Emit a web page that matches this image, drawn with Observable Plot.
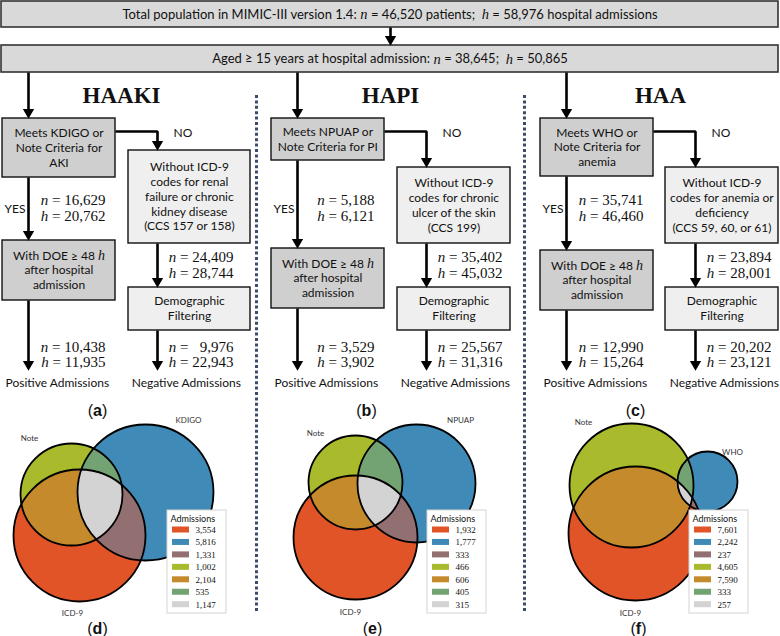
<!DOCTYPE html>
<html>
<head>
<meta charset="utf-8">
<script src="https://cdn.jsdelivr.net/npm/d3@7"></script>
<script src="https://cdn.jsdelivr.net/npm/@observablehq/plot@0.6"></script>
<style>
  body { margin: 0; background: #fff; }
  svg { display: block; }
</style>
</head>
<body>
<div id="chart"></div>
<script>
// ---------------- DATA ----------------
const topText = "Total population in MIMIC-III version 1.4: *n* = 46,520 patients;  *h* = 58,976 hospital admissions";
const ageText = "Aged ≥ 15 years at hospital admission: *n* = 38,645;  *h* = 50,865";
const groups = ["HAAKI", "HAPI", "HAA"];
const meetsText = [
  ["Meets KDIGO or", "Note Criteria for", "AKI"],
  ["Meets NPUAP or", "Note Criteria for PI"],
  ["Meets WHO or", "Note Criteria for", "anemia"]
];
const withoutText = [
  ["Without ICD-9", "codes for renal", "failure or chronic", "kidney disease", "(CCS 157 or 158)"],
  ["Without ICD-9", "codes for chronic", "ulcer of the skin", "(CCS 199)"],
  ["Without ICD-9", "codes for anemia or", "deficiency", "(CCS 59, 60, or 61)"]
];
const doeText = ["With DOE ≥ 48 *h*", "after hospital", "admission"];
const demoText = ["Demographic", "Filtering"];
const yesN = [16629, 5188, 35741], yesH = [20762, 6121, 46460];
const noN = [24409, 35402, 23894], noH = [28744, 45032, 28001];
const posN = [10438, 3529, 12990], posH = [11935, 3902, 15264];
const negN = [9976, 25567, 20202], negH = [22943, 31316, 23121];
const flowLetters = ["a", "b", "c"];
const vennLetters = ["d", "e", "f"];
const criteria = ["KDIGO", "NPUAP", "WHO"];
const regionKeys = ["ICD-9 only", "criteria only", "ICD-9 & criteria", "Note only", "ICD-9 & Note", "criteria & Note", "all three"];
const admissionsD = [3554, 5816, 1331, 1002, 2104, 535, 1147];
const admissionsE = [1932, 1777, 333, 466, 606, 405, 315];
const admissionsF = [7601, 2242, 237, 4605, 7590, 333, 257];
const admissions = [admissionsD, admissionsE, admissionsF];

// ---------------- LAYOUT / STYLE ----------------
const palette = ["#e05427", "#3f8ab6", "#926f70", "#a9ba2c", "#c58a2c", "#74a373", "#d3d3d3"];
const colOffset = [0, 269, 538];
const leftX = [2, 115];
const meetsY = [[118, 177], [118, 160], [118, 176]];
const withoutX = [[128, 250], [128, 241], [127, 240]];
const withoutY = [[150, 243], [167, 243], [167, 243]];
const doeY = [[240, 300], [248, 308], [250, 310]];
const demoY = [287, 330];
const leftArrowX = 28, rightArrowX = 157, noY = 131, endY = 370;
// Venn circles: [cx, cy, r] for A = ICD-9, B = criteria, C = Note
const vennGeom = [
  { A: [79, 535, 66], B: [145, 492, 68], C: [71, 494, 51] },
  { A: [355, 537, 62], B: [416, 483, 59], C: [355, 482, 47] },
  { A: [635, 533, 67], B: [707, 481, 30], C: [631, 485, 62] }
];
const vennLabelPos = [
  { note: [29, 438], crit: [188, 420], icd: [72, 613], letter: [97, 628] },
  { note: [315, 433], crit: [460, 420], icd: [350, 612], letter: [372, 628] },
  { note: [583, 422], crit: [732, 452], icd: [630, 613], letter: [638, 628] }
];
const legendX = [167, 427, 689];

const fontDefs = {
  sans: { family: "Lato" },
  sansGray: { family: "Lato" },
  serif: { family: "Liberation Serif" },
  serifI: { family: "Liberation Serif", italic: true },
  title: { family: "Liberation Serif", bold: true },
  sansR: { family: "Liberation Sans" },
  sansB: { family: "Liberation Sans", bold: true }
};
const ctx = document.createElement("canvas").getContext("2d");
function cssFont(style, size) {
  const f = fontDefs[style];
  return `${f.italic ? "italic " : ""}${f.bold ? "bold " : ""}${size}px "${f.family}"`;
}
function measure(t, style, size) { ctx.font = cssFont(style, size); return ctx.measureText(t).width; }

const texts = [];
function addPieces(pieces, x, y, align) {
  const widths = pieces.map(p => measure(p.t, p.style, p.size));
  const total = d3.sum(widths);
  let cursor = align === "middle" ? x - total / 2 : align === "end" ? x - total : x;
  pieces.forEach((p, i) => {
    const lead = p.t.match(/^[ ]*/)[0];
    const txt = p.t.replace(/^[ ]+|[ ]+$/g, "");
    if (txt.length) texts.push({ x: cursor + measure(lead, p.style, p.size), y, text: txt, style: p.style, size: p.size });
    cursor += widths[i];
  });
}
function addLine(str, x, y, align, o) {
  const parts = str.split(/\*([^*]+)\*/);
  const pieces = parts.map((t, i) => i % 2
    ? { t, style: "serifI", size: o.varSize || o.size }
    : { t, style: o.style, size: o.size }).filter(p => p.t.length);
  addPieces(pieces, x, y, align);
}

const fmt = d3.format(",");
const FIG = "\u2007";
function nhLines(n, h) {
  let a = fmt(n), b = fmt(h);
  while (a.length < b.length) a = FIG + a;
  while (b.length < a.length) b = FIG + b;
  return [`*n* = ${a}`, `*h* = ${b}`];
}
const nhOpt = { style: "serif", size: 15, varSize: 15 };

// ---------------- BUILD FLOWCHART ----------------
const boxesTop = [
  { x1: 1, x2: 778, y1: 1, y2: 27, lines: [topText] },
  { x1: 1, x2: 778, y1: 45, y2: 72, lines: [ageText] }
];
const boxesDark = [], boxesLight = [];
const arrows = [];
arrows.push([[390, 27], [390, 45]]);

for (let i = 0; i < 3; i++) {
  const off = colOffset[i];
  const L = leftArrowX + off, R = rightArrowX + off;
  const meets = { x1: leftX[0] + off, x2: leftX[1] + off, y1: meetsY[i][0], y2: meetsY[i][1], lines: meetsText[i] };
  const doe = { x1: leftX[0] + off, x2: leftX[1] + off, y1: doeY[i][0], y2: doeY[i][1], lines: doeText };
  const without = { x1: withoutX[i][0] + off, x2: withoutX[i][1] + off, y1: withoutY[i][0], y2: withoutY[i][1], lines: withoutText[i] };
  const demo = { x1: withoutX[i][0] + off, x2: withoutX[i][1] + off, y1: demoY[0], y2: demoY[1], lines: demoText };
  boxesDark.push(meets, doe);
  boxesLight.push(without, demo);

  arrows.push([[L, 72], [L, meets.y1]]);
  arrows.push([[L, meets.y2], [L, doe.y1]]);
  arrows.push([[meets.x2, noY], [R, noY], [R, without.y1]]);
  arrows.push([[R, without.y2], [R, demo.y1]]);
  arrows.push([[L, doe.y2], [L, endY]]);
  arrows.push([[R, demo.y2], [R, endY]]);

  addPieces([{ t: groups[i], style: "title", size: 23 }], [121, 390, 660][i], 95, "middle");
  addLine("YES", 4 + off, 209, "start", { style: "sans", size: 12 });
  addLine("NO", 173 + off, 133, "start", { style: "sans", size: 12 });
  const yl = nhLines(yesN[i], yesH[i]);
  addLine(yl[0], 105 + off, 200, "end", nhOpt);
  addLine(yl[1], 105 + off, 216, "end", nhOpt);
  const nl = nhLines(noN[i], noH[i]);
  addLine(nl[0], 233 + off, 257, "end", nhOpt);
  addLine(nl[1], 233 + off, 273, "end", nhOpt);
  const pl = nhLines(posN[i], posH[i]);
  addLine(pl[0], 105 + off, 347, "end", nhOpt);
  addLine(pl[1], 105 + off, 362, "end", nhOpt);
  const ngl = nhLines(negN[i], negH[i]);
  addLine(ngl[0], 233 + off, 347, "end", nhOpt);
  addLine(ngl[1], 233 + off, 362, "end", nhOpt);
  addLine("Positive Admissions", 57 + off, 383, "middle", { style: "sans", size: 12 });
  addLine("Negative Admissions", 186 + off, 383, "middle", { style: "sans", size: 12 });
  addPieces([{ t: "(", style: "sansR", size: 16 }, { t: flowLetters[i], style: "sansB", size: 16 }, { t: ")", style: "sansR", size: 16 }], 97 + off, 410, "middle");
}

function addBoxText(b, o, spacing) {
  const cx = (b.x1 + b.x2) / 2, cy = (b.y1 + b.y2) / 2;
  b.lines.forEach((ln, k) => addLine(ln, cx, cy + (k - (b.lines.length - 1) / 2) * spacing, "middle", o));
}
boxesTop.forEach(b => addBoxText(b, { style: "sans", size: 13, varSize: 14.5 }, 14));
boxesDark.concat(boxesLight).forEach(b => addBoxText(b, { style: "sans", size: 12, varSize: 14 }, 14.8));

const lineData = arrows.flatMap((pts, id) => pts.map((p, k) => ({ id, x: p[0], y: k === pts.length - 1 ? p[1] - 5 : p[1] })));
const tips = arrows.map(pts => { const p = pts[pts.length - 1]; return { x: p[0], y: p[1] - 6.2 }; });

// ---------------- VENN ----------------
const vennCircles = [];
vennGeom.forEach((g, v) => ["A", "B", "C"].forEach(s => vennCircles.push({ v, set: s, cx: g[s][0], cy: g[s][1], r: g[s][2] })));
const bySet = s => vennCircles.filter(d => d.set === s);
const vdot = (data, key, label) => Plot.dot(data, { x: "cx", y: "cy", r: "r", fill: () => key, sort: null, ariaDescription: label });

vennLabelPos.forEach((p, v) => {
  addLine("Note", p.note[0], p.note[1], "middle", { style: "sansGray", size: 8 });
  addLine(criteria[v], p.crit[0], p.crit[1], "middle", { style: "sansGray", size: 8 });
  addLine("ICD-9", p.icd[0], p.icd[1], "middle", { style: "sansGray", size: 8 });
  addPieces([{ t: "(", style: "sansR", size: 16 }, { t: vennLetters[v], style: "sansB", size: 16 }, { t: ")", style: "sansR", size: 16 }], p.letter[0], p.letter[1], "middle");
});

const legendBoxes = legendX.map(x => ({ x1: x, x2: x + 59, y1: 510, y2: 613 }));
const legendRows = [];
legendX.forEach((x, v) => {
  addLine("Admissions", x + 3, 518.5, "start", { style: "sans", size: 9 });
  regionKeys.forEach((key, i) => {
    const y = 529.5 + 12.45 * i;
    legendRows.push({ key, x1: x + 5, x2: x + 22, y1: y - 3, y2: y + 3 });
    addLine(fmt(admissions[v][i]), x + 28, y, "start", { style: "serif", size: 9 });
  });
});

// ---------------- PLOT ----------------
const textMark = (style, extra) => Plot.text(texts.filter(d => d.style === style), {
  x: "x", y: "y", text: "text", fontSize: d => d.size, textAnchor: "start",
  fontFamily: fontDefs[style].family,
  fontStyle: fontDefs[style].italic ? "italic" : "normal",
  fontWeight: fontDefs[style].bold ? "bold" : "normal",
  fill: "#111", ...extra
});

const layerNames = ["venn-A", "venn-B", "venn-C", "layer-AB", "layer-AC", "layer-BC", "layer-ABC"];
const svg = Plot.plot({
  width: 780, height: 636, margin: 0,
  style: { background: "white", fontFamily: "Lato" },
  x: { domain: [0, 780], range: [0, 780], axis: null },
  y: { domain: [0, 636], range: [0, 636], axis: null },
  r: { type: "linear", domain: [0, 100], range: [0, 100] },
  color: { type: "ordinal", domain: regionKeys, range: palette },
  marks: [
    Plot.rect(boxesTop, { x1: "x1", x2: "x2", y1: "y1", y2: "y2", fill: "#d9d9d9", stroke: "#333", strokeWidth: 1.6 }),
    Plot.rect(boxesDark, { x1: "x1", x2: "x2", y1: "y1", y2: "y2", fill: "#cfcfcf", stroke: "#111", strokeWidth: 1.4 }),
    Plot.rect(boxesLight, { x1: "x1", x2: "x2", y1: "y1", y2: "y2", fill: "#efefef", stroke: "#111", strokeWidth: 1.4 }),
    Plot.line(lineData, { x: "x", y: "y", z: "id", stroke: "#000", strokeWidth: 2.6, strokeLinejoin: "miter", strokeLinecap: "butt" }),
    Plot.dot(tips, { x: "x", y: "y", symbol: "triangle", r: 4.2, fill: "#000", rotate: 180 }),
    Plot.ruleX([256, 524], { x: d => d, y1: 95, y2: 612, stroke: "#3e4c6c", strokeWidth: 3, strokeDasharray: "3,2.4" }),
    vdot(bySet("A"), "ICD-9 only", "venn-A"),
    vdot(bySet("B"), "criteria only", "venn-B"),
    vdot(bySet("C"), "Note only", "venn-C"),
    vdot(bySet("B"), "ICD-9 & criteria", "layer-AB"),
    vdot(bySet("C"), "ICD-9 & Note", "layer-AC"),
    vdot(bySet("C"), "criteria & Note", "layer-BC"),
    vdot(bySet("C"), "all three", "layer-ABC"),
    Plot.dot(vennCircles, { x: "cx", y: "cy", r: "r", fill: "none", stroke: "#000", strokeWidth: 1.8, sort: null }),
    Plot.rect(legendBoxes, { x1: "x1", x2: "x2", y1: "y1", y2: "y2", fill: "white", stroke: "#d4d4d4", strokeWidth: 1 }),
    Plot.rect(legendRows, { x1: "x1", x2: "x2", y1: "y1", y2: "y2", fill: "key" }),
    textMark("sans"),
    textMark("sansGray", { fill: "#333" }),
    textMark("serif"),
    textMark("serifI"),
    textMark("title"),
    textMark("sansR"),
    textMark("sansB")
  ]
});

// ---------------- CLIP REGIONS OF THE VENN ----------------
const NS = "http://www.w3.org/2000/svg";
const defs = document.createElementNS(NS, "defs");
svg.appendChild(defs);
// find the groups of the venn layers (by aria-description, else by order among dot groups)
const dotGroups = Array.from(svg.querySelectorAll('g[aria-label="dot"]'));
function groupOf(label) {
  const g = svg.querySelector(`g[aria-description="${label}"]`);
  if (g) return g;
  return dotGroups[1 + layerNames.indexOf(label)];
}
const nodesOf = label => { const g = groupOf(label); return g ? Array.from(g.children) : []; };
["A", "B"].forEach(s => nodesOf("venn-" + s).forEach((node, i) => {
  const cp = document.createElementNS(NS, "clipPath");
  cp.setAttribute("id", `vclip-${s}-${i}`);
  cp.setAttribute("clipPathUnits", "userSpaceOnUse");
  const c = node.cloneNode(false);
  ["fill", "stroke", "stroke-width", "clip-path"].forEach(a => c.removeAttribute(a));
  cp.appendChild(c);
  defs.appendChild(cp);
}));
nodesOf("layer-AB").forEach((n, i) => n.setAttribute("clip-path", `url(#vclip-A-${i})`));
nodesOf("layer-AC").forEach((n, i) => n.setAttribute("clip-path", `url(#vclip-A-${i})`));
nodesOf("layer-BC").forEach((n, i) => n.setAttribute("clip-path", `url(#vclip-B-${i})`));
nodesOf("layer-ABC").forEach((n, i) => {
  const g = document.createElementNS(NS, "g");
  g.setAttribute("clip-path", `url(#vclip-B-${i})`);
  n.parentNode.insertBefore(g, n);
  g.appendChild(n);
  n.setAttribute("clip-path", `url(#vclip-A-${i})`);
});

document.getElementById("chart").appendChild(svg);
</script>
</body>
</html>
